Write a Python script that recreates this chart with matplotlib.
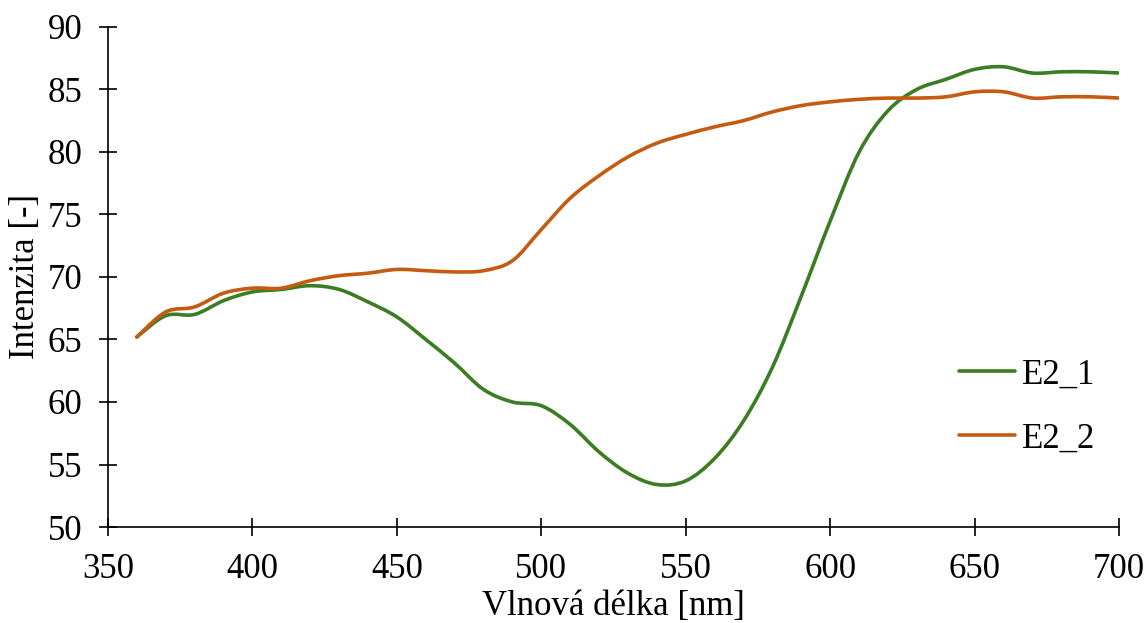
import matplotlib
matplotlib.use("Agg")
import matplotlib.pyplot as plt
from matplotlib.path import Path
from matplotlib.patches import PathPatch
from matplotlib.lines import Line2D

# wavelength [nm]
wavelength = [360, 370, 380, 390, 400, 410, 420, 430, 440, 450, 460, 470, 480, 490,
              500, 510, 520, 530, 540, 550, 560, 570, 580, 590, 600, 610, 620, 630,
              640, 650, 660, 670, 680, 690, 700]

e2_1 = [65.2, 66.9, 67.0, 68.1, 68.8, 69.0, 69.3, 69.0, 68.0, 66.8, 65.0, 63.1, 61.0, 60.0,
        59.7, 58.2, 56.0, 54.3, 53.4, 53.7, 55.5, 58.5, 62.8, 68.5, 74.5, 80.0, 83.3, 85.0,
        85.8, 86.6, 86.8, 86.3, 86.4, 86.4, 86.3]

e2_2 = [65.2, 67.2, 67.6, 68.7, 69.1, 69.1, 69.7, 70.1, 70.3, 70.6, 70.5, 70.4, 70.5, 71.3,
        73.8, 76.3, 78.1, 79.6, 80.7, 81.4, 82.0, 82.5, 83.2, 83.7, 84.0, 84.2, 84.3, 84.3,
        84.4, 84.8, 84.8, 84.3, 84.4, 84.4, 84.3]

labels = ['E2_1', 'E2_2']
colors = ['#3B7D23', '#C55A11']


def smooth_path(xs, ys):
    # spreadsheet-style smoothed line: cubic bezier through every point
    n = len(xs)
    verts = [(xs[0], ys[0])]
    codes = [Path.MOVETO]
    for i in range(n - 1):
        x0, y0 = (xs[i - 1], ys[i - 1]) if i > 0 else (xs[i], ys[i])
        x1, y1 = xs[i], ys[i]
        x2, y2 = xs[i + 1], ys[i + 1]
        x3, y3 = (xs[i + 2], ys[i + 2]) if i + 2 < n else (x2, y2)
        verts += [(x1 + (x2 - x0) / 6, y1 + (y2 - y0) / 6),
                  (x2 - (x3 - x1) / 6, y2 - (y3 - y1) / 6),
                  (x2, y2)]
        codes += [Path.CURVE4] * 3
    return Path(verts, codes)


plt.rcParams['font.family'] = ['Liberation Serif', 'DejaVu Serif']
plt.rcParams['font.size'] = 25

fig = plt.figure(figsize=(11.48, 6.23), dpi=100)
ax = fig.add_axes([0.094, 0.154, 0.881, 0.803])

handles = []
for ys, lab, col in zip([e2_1, e2_2], labels, colors):
    ax.add_patch(PathPatch(smooth_path(wavelength, ys), fill=False, edgecolor=col,
                           lw=2.6, capstyle='round', joinstyle='round'))
    handles.append(Line2D([], [], color=col, lw=2.6, solid_capstyle='round', label=lab))

ax.set_xlim(350, 700)
ax.set_ylim(50, 90)
ax.set_xticks(range(350, 701, 50))
ax.set_yticks(range(50, 91, 5))
ax.spines['top'].set_visible(False)
ax.spines['right'].set_visible(False)
ax.tick_params(direction='inout', length=13, width=1.2, pad=12)
ax.spines['left'].set_linewidth(1.2)
ax.spines['bottom'].set_linewidth(1.2)

ax.set_xlabel('Vlnová délka [nm]', labelpad=3)
ax.set_ylabel('Intenzita [-]', labelpad=4)

ax.legend(handles=handles, loc='center left', bbox_to_anchor=(0.811, 0.24), frameon=False,
          handlelength=1.6, handletextpad=0.2, labelspacing=0.9)

fig.savefig('out.png', dpi=100)
